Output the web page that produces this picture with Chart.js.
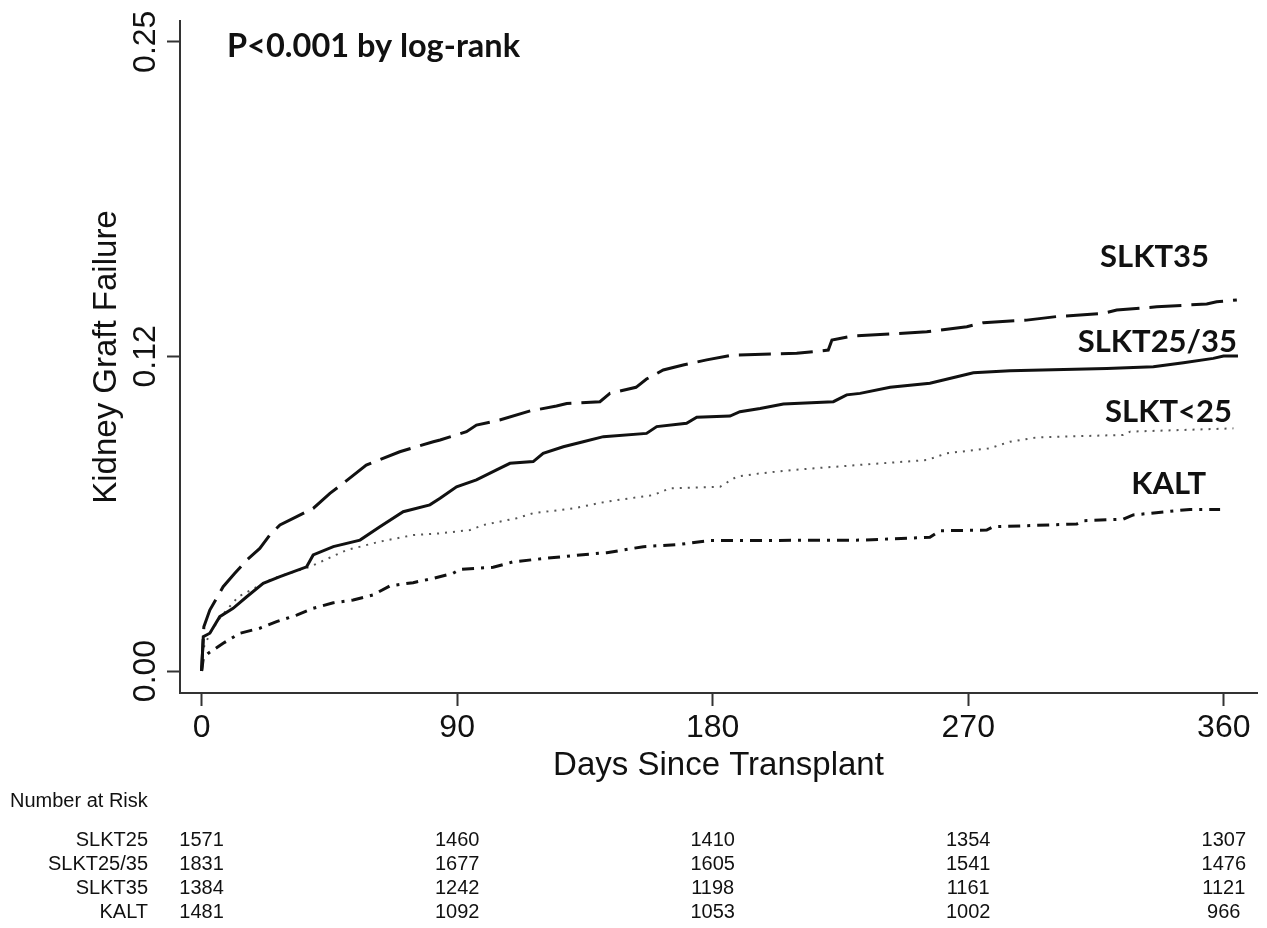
<!DOCTYPE html>
<html>
<head>
<meta charset="utf-8">
<title>Kidney Graft Failure</title>
<script src="https://cdn.jsdelivr.net/npm/chart.js@4.4.1/dist/chart.umd.min.js"></script>
<style>
  html, body { margin: 0; padding: 0; background: #fff; }
  canvas { display: block; }
</style>
</head>
<body>
<canvas id="kmChart" width="1267" height="928"></canvas>
<script>
// Kaplan-Meier curves (days since transplant, cumulative failure)
const slkt35Days = [0, 0.8, 2.9, 7.6, 11.7, 15.9, 20.5, 24, 27.6, 33.5, 39.3, 45.2, 49.9, 58, 69.8, 81.6, 84, 93.3, 96.8, 105,
  116.8, 119, 125, 128.6, 140.3, 143.8, 153, 156.7, 162.6, 169.6, 177.9, 187, 209.6, 220.7, 222, 229.5, 242.5, 255.4, 269.5, 275.3,
  290.6, 301, 317.6, 322.3, 336.4, 354, 357.5, 364.6];
const slkt35Fail = [0, 0.0176, 0.0242, 0.0335, 0.0388, 0.0441, 0.0487, 0.054, 0.058, 0.0613, 0.0646, 0.0706, 0.0746, 0.0818, 0.0871, 0.0911, 0.0918, 0.0951, 0.0977, 0.0997,
  0.1037, 0.1040, 0.1053, 0.1063, 0.107, 0.1103, 0.1127, 0.116, 0.1196, 0.1216, 0.1236, 0.1255, 0.1262, 0.1275, 0.1315, 0.1331, 0.1339, 0.1348, 0.1368, 0.1384,
  0.1394, 0.1408, 0.1421, 0.1434, 0.1447, 0.1458, 0.1467, 0.1474];

const slkt2535Days = [0, 0.6, 2.9, 6.4, 11.1, 15.9, 21.7, 27.6, 37, 39.3, 46.4, 55.8, 62.8, 71, 80.4, 84, 89.8, 96.8, 103.9, 108.6,
  116.8, 120.3, 127.4, 134.4, 141.5, 156.7, 160.3, 170.8, 174.4, 186.1, 189.6, 196.7, 204.9, 222.5, 227.2, 231.9, 242.5, 256.5, 266, 271.8,
  284.7, 318.8, 335.2, 345.8, 356.3, 359.9, 365];
const slkt2535Fail = [0, 0.0136, 0.015, 0.0216, 0.0249, 0.0295, 0.0348, 0.0375, 0.0414, 0.0461, 0.0494, 0.052, 0.0573, 0.0633, 0.066, 0.0686, 0.0732, 0.0759, 0.0799, 0.0825,
  0.0832, 0.0865, 0.0891, 0.0911, 0.0931, 0.0944, 0.0971, 0.0984, 0.1008, 0.1013, 0.103, 0.1043, 0.1061, 0.107, 0.1097, 0.1103, 0.1127, 0.1143, 0.1169, 0.1185,
  0.1193, 0.1202, 0.1209, 0.1225, 0.1242, 0.1251, 0.1251];

const slkt25Days = [0, 0.6, 3, 6.4, 12.9, 25.2, 38.1, 51, 62.8, 74.5, 84, 94.5, 99.2, 111, 116.8, 130.9, 142.7, 159.1, 165, 182.6,
  188.4, 196.7, 208.4, 230.7, 255.4, 262.4, 277.7, 284.7, 294.1, 324.6, 327, 363.4];
const slkt25Fail = [0, 0.009, 0.015, 0.021, 0.0295, 0.0368, 0.0414, 0.048, 0.0514, 0.054, 0.0547, 0.056, 0.058, 0.0607, 0.0627, 0.0646, 0.0673, 0.0699, 0.0726, 0.0732,
  0.0772, 0.0785, 0.0799, 0.0818, 0.0838, 0.0865, 0.0885, 0.0911, 0.0928, 0.0938, 0.0951, 0.0964];

const kaltDays = [0, 0.6, 2.3, 7.6, 13.5, 20.5, 26.4, 33.5, 39.3, 46.4, 53.4, 60.4, 66.3, 74.5, 81.6, 88.6, 91, 102.7, 109.8, 121.5,
  133.2, 142.7, 155.6, 168.5, 179, 231.9, 256.5, 260, 276.5, 278.8, 308.2, 310.5, 324.6, 328.1, 339.9, 348.1, 358.7];
const kaltFail = [0, 0.005, 0.007, 0.011, 0.015, 0.017, 0.0196, 0.0222, 0.0249, 0.0271, 0.0282, 0.0302, 0.0338, 0.0351, 0.0368, 0.0388, 0.0404, 0.0412, 0.0434, 0.0448,
  0.0461, 0.047, 0.0494, 0.0503, 0.0518, 0.052, 0.0531, 0.0557, 0.056, 0.0573, 0.0584, 0.0597, 0.0603, 0.062, 0.0633, 0.0642, 0.0642];

// axes
const xTicks = [0, 90, 180, 270, 360];
const yTicks = [0, 0.125, 0.25];
const yTickLabels = ['0.00', '0.12', '0.25'];

// number-at-risk table
const riskDays = [0, 90, 180, 270, 360];
const riskGroups = ['SLKT25', 'SLKT25/35', 'SLKT35', 'KALT'];
const riskSLKT25 = [1571, 1460, 1410, 1354, 1307];
const riskSLKT2535 = [1831, 1677, 1605, 1541, 1476];
const riskSLKT35 = [1384, 1242, 1198, 1161, 1121];
const riskKALT = [1481, 1092, 1053, 1002, 966];

const curveNames = ['SLKT35', 'SLKT25/35', 'SLKT<25', 'KALT'];

const SANS = '"Liberation Sans", Arial, Helvetica, sans-serif';
const BOLD = 'Lato, "Open Sans", sans-serif';
const INK = '#111';

function toPoints(days, vals) {
  return days.map((d, i) => ({ x: d, y: vals[i] }));
}

// text outside the plot: p-value, curve names, risk table
const annotations = {
  id: 'annotations',
  afterDraw(chart) {
    const ctx = chart.ctx;
    const xs = chart.scales.x;
    ctx.save();
    ctx.fillStyle = INK;

    ctx.font = 'bold 32.5px ' + BOLD;
    ctx.textBaseline = 'alphabetic';
    ctx.textAlign = 'left';
    ctx.fillText('P<0.001 by log-rank', 227, 57);

    ctx.font = 'bold 31px ' + BOLD;
    ctx.textAlign = 'right';
    ctx.fillText(curveNames[0], 1209, 267);
    ctx.fillText(curveNames[1], 1237, 352);
    ctx.fillText(curveNames[2], 1232, 422);
    ctx.fillText(curveNames[3], 1206, 494);

    ctx.font = '20px ' + SANS;
    ctx.textBaseline = 'middle';
    ctx.textAlign = 'left';
    ctx.fillText('Number at Risk', 10, 801);

    const rows = [riskSLKT25, riskSLKT2535, riskSLKT35, riskKALT];
    const rowY = [840, 864, 888, 912];
    rows.forEach((row, r) => {
      ctx.textAlign = 'right';
      ctx.fillText(riskGroups[r], 148, rowY[r]);
      ctx.textAlign = 'center';
      row.forEach((n, i) => {
        ctx.fillText(String(n), xs.getPixelForValue(riskDays[i]), rowY[r]);
      });
    });
    ctx.restore();
  }
};

new Chart(document.getElementById('kmChart'), {
  type: 'line',
  data: {
    datasets: [
      {
        label: 'SLKT35',
        data: toPoints(slkt35Days, slkt35Fail),
        borderColor: INK,
        borderWidth: 3,
        borderDash: [32, 10]
      },
      {
        label: 'SLKT25/35',
        data: toPoints(slkt2535Days, slkt2535Fail),
        borderColor: INK,
        borderWidth: 3
      },
      {
        label: 'SLKT<25',
        data: toPoints(slkt25Days, slkt25Fail),
        borderColor: '#555',
        borderWidth: 2,
        borderDash: [2, 6]
      },
      {
        label: 'KALT',
        data: toPoints(kaltDays, kaltFail),
        borderColor: INK,
        borderWidth: 3,
        borderDash: [12, 7, 3, 7]
      }
    ]
  },
  options: {
    responsive: false,
    animation: false,
    layout: { padding: { top: 21, right: 10, left: 0, bottom: 0 } },
    elements: { point: { radius: 0 }, line: { tension: 0, fill: false } },
    plugins: { legend: { display: false }, tooltip: { enabled: false } },
    scales: {
      x: {
        type: 'linear',
        min: -7.6,
        max: 371.7,
        afterBuildTicks: (s) => { s.ticks = xTicks.map(v => ({ value: v })); },
        afterFit: (s) => { s.height = 235; },
        grid: { drawOnChartArea: false, tickLength: 13, tickWidth: 2, tickColor: '#333' },
        border: { color: '#333', width: 2 },
        ticks: { font: { family: SANS, size: 32 }, color: INK, padding: 3, maxRotation: 0, autoSkip: false },
        title: {
          display: true,
          text: 'Days Since Transplant',
          font: { family: SANS, size: 33 },
          color: INK,
          padding: { top: 0, bottom: 142 }
        }
      },
      y: {
        min: -0.00874,
        max: 0.25824,
        afterBuildTicks: (s) => { s.ticks = yTicks.map(v => ({ value: v })); },
        afterFit: (s) => { s.width = 180; },
        grid: { drawOnChartArea: false, tickLength: 13, tickWidth: 2, tickColor: '#333' },
        border: { color: '#333', width: 2 },
        ticks: {
          font: { family: SANS, size: 32 },
          color: INK,
          minRotation: 90,
          maxRotation: 90,
          crossAlign: 'center',
          padding: -10,
          autoSkip: false,
          callback: (v) => yTickLabels[yTicks.indexOf(v)]
        },
        title: {
          display: true,
          text: 'Kidney Graft Failure',
          font: { family: SANS, size: 33 },
          color: INK,
          padding: { top: 87, bottom: 0 }
        }
      }
    }
  },
  plugins: [annotations]
});
</script>
</body>
</html>
